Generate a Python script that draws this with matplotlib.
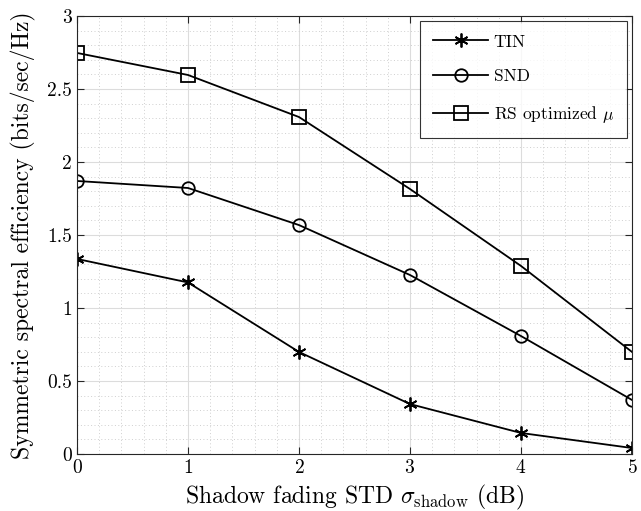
import matplotlib
matplotlib.use("Agg")
import matplotlib.pyplot as plt
from matplotlib.ticker import MultipleLocator

plt.rcParams['font.family'] = ['cmr10', 'DejaVu Serif']
plt.rcParams['mathtext.fontset'] = 'cm'
plt.rcParams['axes.formatter.use_mathtext'] = True
plt.rcParams['axes.unicode_minus'] = False

x = [0, 1, 2, 3, 4, 5]
tin = [1.336, 1.175, 0.699, 0.342, 0.144, 0.041]
snd = [1.870, 1.822, 1.568, 1.226, 0.808, 0.370]
rs = [2.747, 2.596, 2.308, 1.815, 1.288, 0.699]
labels = ['TIN', 'SND', r'RS optimized $\mu$']
yticks = [0, 0.5, 1, 1.5, 2, 2.5, 3]
yticklabels = ['0', '0.5', '1', '1.5', '2', '2.5', '3']

fig = plt.figure(figsize=(6.41, 5.11), dpi=100)
ax = fig.add_axes([77/641, 1-454/511, (632-77)/641, (454-16)/511])

ax.plot(x, tin, color='black', lw=1.3, marker=(6, 2, 0), ms=10, mew=1.3, label=labels[0])
ax.plot(x, snd, color='black', lw=1.3, marker='o', ms=9, mfc='none', mew=1.3, label=labels[1])
ax.plot(x, rs, color='black', lw=1.3, marker='s', ms=10, mfc='none', mew=1.3, label=labels[2])

ax.set_xlim(0, 5)
ax.set_ylim(0, 3)
ax.xaxis.set_major_locator(MultipleLocator(1))
ax.set_yticks(yticks)
ax.set_yticklabels(yticklabels)
ax.xaxis.set_minor_locator(MultipleLocator(0.2))
ax.yaxis.set_minor_locator(MultipleLocator(0.1))

ax.grid(which='major', color='#dcdcdc', lw=0.8, ls='-')
ax.grid(which='minor', color='#cfcfcf', lw=0.7, ls=(0, (1, 2.5)))
ax.set_axisbelow(True)
ax.tick_params(which='both', direction='in', top=True, right=True, labelsize=14)
ax.tick_params(which='major', length=5, width=0.8, color='#262626')
ax.tick_params(which='minor', length=0)
for s in ax.spines.values():
    s.set_color('#262626')
    s.set_linewidth(0.8)

ax.set_xlabel(r'Shadow fading STD $\sigma_{\rm shadow}$ (dB)', fontsize=17, labelpad=4)
ax.set_ylabel('Symmetric spectral efficiency (bits/sec/Hz)', fontsize=17, labelpad=8)

leg = ax.legend(loc='upper right', fontsize=12.5, frameon=True, fancybox=False,
                edgecolor='black', handlelength=3.2, labelspacing=1.12,
                borderpad=0.75, handletextpad=0.3, borderaxespad=0.3)
leg.get_frame().set_linewidth(0.8)

fig.savefig('out.png', dpi=100)
